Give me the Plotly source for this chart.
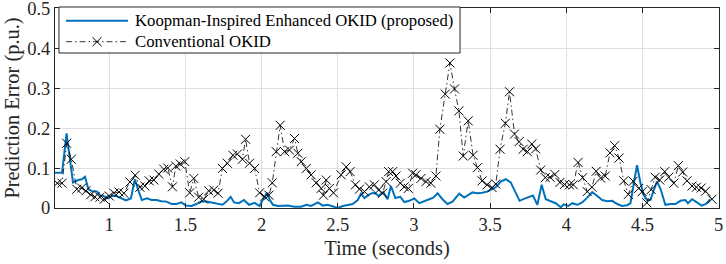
import plotly.graph_objects as go

# Koopman-Inspired Enhanced OKID (proposed) - time (s) and error (p.u.)
t_koop = [0.644, 0.690, 0.720, 0.739, 0.762, 0.795, 0.821, 0.841, 0.863, 0.893,
          0.920, 0.939, 0.961, 0.994, 1.016, 1.048, 1.081, 1.109, 1.142, 1.168,
          1.190, 1.214, 1.247, 1.278, 1.310, 1.343, 1.376, 1.409, 1.441, 1.474,
          1.502, 1.540, 1.572, 1.605, 1.638, 1.681, 1.714, 1.743, 1.769, 1.797,
          1.819, 1.851, 1.884, 1.917, 1.954, 1.987, 2.013, 2.035, 2.052, 2.074,
          2.107, 2.140, 2.172, 2.216, 2.260, 2.293, 2.326, 2.369, 2.402, 2.434,
          2.467, 2.500, 2.533, 2.565, 2.598, 2.631, 2.653, 2.675, 2.707, 2.740,
          2.768, 2.799, 2.827, 2.849, 2.878, 2.910, 2.937, 2.969, 3.002, 3.035,
          3.068, 3.100, 3.127, 3.155, 3.187, 3.220, 3.253, 3.297, 3.330, 3.362,
          3.384, 3.417, 3.449, 3.480, 3.504, 3.537, 3.570, 3.603, 3.635, 3.664,
          3.693, 3.722, 3.755, 3.781, 3.810, 3.838, 3.865, 3.897, 3.930, 3.963,
          3.984, 4.013, 4.039, 4.072, 4.104, 4.137, 4.170, 4.203, 4.235, 4.268,
          4.301, 4.334, 4.366, 4.399, 4.421, 4.443, 4.464, 4.487, 4.508, 4.530,
          4.552, 4.574, 4.595, 4.618, 4.650, 4.683, 4.716, 4.749, 4.781, 4.798,
          4.825, 4.857, 4.888, 4.916, 4.945]
err_koop = [0.088, 0.088, 0.187, 0.132, 0.064, 0.070, 0.072, 0.078, 0.047, 0.041,
            0.041, 0.032, 0.030, 0.024, 0.030, 0.030, 0.025, 0.019, 0.024, 0.072,
            0.045, 0.020, 0.024, 0.020, 0.020, 0.017, 0.016, 0.010, 0.010, 0.014,
            0.006, 0.005, 0.010, 0.017, 0.016, 0.013, 0.010, 0.008, 0.016, 0.028,
            0.014, 0.012, 0.020, 0.008, 0.013, 0.005, 0.024, 0.038, 0.022, 0.008,
            0.005, 0.005, 0.006, 0.003, 0.003, 0.008, 0.005, 0.014, 0.006, 0.008,
            0.003, 0.000, 0.005, 0.008, 0.010, 0.020, 0.036, 0.025, 0.034, 0.039,
            0.030, 0.040, 0.022, 0.055, 0.025, 0.028, 0.015, 0.018, 0.024, 0.012,
            0.018, 0.022, 0.026, 0.037, 0.022, 0.010, 0.016, 0.036, 0.026, 0.033,
            0.039, 0.037, 0.038, 0.041, 0.046, 0.052, 0.066, 0.072, 0.064, 0.040,
            0.018, 0.023, 0.027, 0.031, 0.008, 0.058, 0.022, 0.018, 0.012, 0.002,
            0.009, 0.005, 0.012, 0.008, 0.014, 0.026, 0.040, 0.030, 0.020, 0.017,
            0.018, 0.010, 0.005, 0.007, 0.012, 0.062, 0.107, 0.062, 0.033, 0.020,
            0.020, 0.045, 0.066, 0.048, 0.008, 0.010, 0.010, 0.018, 0.020, 0.012,
            0.022, 0.014, 0.006, 0.010, 0.022]

# Conventional OKID
t_conv = [0.659, 0.690, 0.721, 0.751, 0.787, 0.819, 0.847, 0.878, 0.906, 0.939,
          0.967, 1.000, 1.031, 1.064, 1.096, 1.136, 1.170, 1.201, 1.234, 1.262,
          1.293, 1.325, 1.358, 1.384, 1.415, 1.437, 1.466, 1.496, 1.528, 1.555,
          1.587, 1.620, 1.653, 1.686, 1.714, 1.743, 1.775, 1.812, 1.841, 1.874,
          1.895, 1.921, 1.954, 1.987, 2.020, 2.048, 2.070, 2.096, 2.122, 2.151,
          2.183, 2.216, 2.238, 2.260, 2.293, 2.325, 2.358, 2.391, 2.406, 2.424,
          2.445, 2.472, 2.522, 2.555, 2.581, 2.616, 2.642, 2.675, 2.707, 2.740,
          2.768, 2.794, 2.817, 2.834, 2.860, 2.882, 2.910, 2.936, 2.963, 2.991,
          3.013, 3.046, 3.079, 3.111, 3.144, 3.170, 3.205, 3.236, 3.266, 3.295,
          3.323, 3.356, 3.388, 3.417, 3.447, 3.480, 3.513, 3.537, 3.565, 3.600,
          3.627, 3.660, 3.690, 3.716, 3.744, 3.773, 3.799, 3.832, 3.862, 3.893,
          3.925, 3.958, 3.988, 4.020, 4.046, 4.077, 4.107, 4.137, 4.168, 4.196,
          4.225, 4.255, 4.287, 4.317, 4.346, 4.377, 4.407, 4.439, 4.475, 4.498,
          4.528, 4.557, 4.583, 4.613, 4.646, 4.672, 4.705, 4.735, 4.764, 4.792,
          4.825, 4.854, 4.885, 4.914, 4.956]
err_conv = [0.062, 0.062, 0.162, 0.122, 0.047, 0.050, 0.043, 0.033, 0.028, 0.027,
            0.022, 0.030, 0.037, 0.040, 0.037, 0.065, 0.082, 0.052, 0.055, 0.068,
            0.070, 0.085, 0.097, 0.100, 0.053, 0.105, 0.110, 0.116, 0.038, 0.074,
            0.027, 0.022, 0.043, 0.045, 0.037, 0.099, 0.112, 0.132, 0.135, 0.122,
            0.172, 0.112, 0.099, 0.038, 0.028, 0.032, 0.063, 0.141, 0.207, 0.141,
            0.145, 0.174, 0.137, 0.116, 0.099, 0.083, 0.063, 0.049, 0.032, 0.070,
            0.049, 0.038, 0.083, 0.103, 0.091, 0.058, 0.047, 0.041, 0.053, 0.058,
            0.045, 0.037, 0.066, 0.091, 0.091, 0.080, 0.062, 0.053, 0.049, 0.087,
            0.083, 0.074, 0.066, 0.062, 0.080, 0.197, 0.285, 0.363, 0.298, 0.243,
            0.130, 0.218, 0.132, 0.101, 0.068, 0.058, 0.051, 0.060, 0.147, 0.212,
            0.291, 0.185, 0.166, 0.147, 0.141, 0.160, 0.148, 0.095, 0.076, 0.077,
            0.084, 0.064, 0.059, 0.058, 0.058, 0.114, 0.076, 0.041, 0.052, 0.092,
            0.075, 0.080, 0.138, 0.156, 0.125, 0.068, 0.034, 0.067, 0.049, 0.041,
            0.013, 0.046, 0.077, 0.070, 0.091, 0.077, 0.062, 0.106, 0.090, 0.068,
            0.055, 0.052, 0.050, 0.042, 0.022]

x_ticks = [1, 1.5, 2, 2.5, 3, 3.5, 4, 4.5, 5]
x_labels = ["1", "1.5", "2", "2.5", "3", "3.5", "4", "4.5", "5"]
y_ticks = [0, 0.1, 0.2, 0.3, 0.4, 0.5]
y_labels = ["0", "0.1", "0.2", "0.3", "0.4", "0.5"]
legend_names = ["Koopman-Inspired Enhanced OKID (proposed)", "Conventional OKID"]

FONT = "Liberation Serif"
INK = "#262626"
BLUE = "#0072BD"
DASHDOT = "6px,3px,1.5px,3px"

fig = go.Figure()

fig.add_trace(go.Scatter(
    x=t_koop, y=err_koop, mode="lines", name=legend_names[0], showlegend=False,
    line=dict(color=BLUE, width=2),
))
fig.add_trace(go.Scatter(
    x=t_conv, y=err_conv, mode="lines+markers", name=legend_names[1], showlegend=False,
    line=dict(color="black", width=0.8, dash=DASHDOT),
    marker=dict(symbol="x-thin", size=9, line=dict(color="black", width=1)),
))

axis_common = dict(
    showline=True, linecolor=INK, linewidth=1, mirror="ticks",
    ticks="inside", ticklen=5, tickcolor=INK,
    showgrid=True, gridcolor="#dfdfdf", gridwidth=1,
    zeroline=False, automargin=False, ticklabeloverflow="allow",
    tickfont=dict(family=FONT, size=18.5, color=INK),
)

fig.update_xaxes(
    range=[0.644, 5.002], tickvals=x_ticks, ticktext=x_labels,
    title=dict(text="Time (seconds)", font=dict(family=FONT, size=20.4, color=INK), standoff=6),
    **axis_common,
)
fig.update_yaxes(
    range=[0, 0.5005], tickvals=y_ticks, ticktext=y_labels,
    title=dict(text="Prediction Error (p.u.)", font=dict(family=FONT, size=20.4, color=INK), standoff=2),
    **axis_common,
)

# legend box drawn by hand (MATLAB style: long line samples, tight rows)
box = dict(x0=0.006, x1=0.61, y0=0.775, y1=1.005)
row_y = [0.9365, 0.8315]
sample_x = (0.0166, 0.1099)
mid_x = 0.0633
fig.add_shape(type="rect", xref="paper", yref="paper", **box,
              line=dict(color=INK, width=1), fillcolor="white", layer="above")
fig.add_shape(type="line", xref="paper", yref="paper",
              x0=sample_x[0], x1=sample_x[1], y0=row_y[0], y1=row_y[0],
              line=dict(color=BLUE, width=2), layer="above")
fig.add_shape(type="line", xref="paper", yref="paper",
              x0=sample_x[0], x1=sample_x[1], y0=row_y[1], y1=row_y[1],
              line=dict(color="black", width=0.8, dash=DASHDOT), layer="above")
dx, dy = 0.0068, 0.0225
fig.add_shape(type="path", xref="paper", yref="paper", layer="above",
              path=(f"M{mid_x - dx},{row_y[1] - dy} L{mid_x + dx},{row_y[1] + dy} "
                    f"M{mid_x - dx},{row_y[1] + dy} L{mid_x + dx},{row_y[1] - dy}"),
              line=dict(color="black", width=1))
for name, yy in zip(legend_names, row_y):
    fig.add_annotation(text=name, xref="paper", yref="paper", x=0.1175, y=yy,
                       xanchor="left", yanchor="middle", showarrow=False,
                       font=dict(family=FONT, size=16.7, color="black"))

fig.update_layout(
    width=726, height=264,
    margin=dict(l=55, r=7, t=8, b=56),
    paper_bgcolor="white", plot_bgcolor="white",
    showlegend=False,
)

# page body has a default 8px margin; drop it so the figure sits at the window corner
fig.write_html("out.html", post_script="document.body.style.margin='0';",
               config={"displayModeBar": False})
